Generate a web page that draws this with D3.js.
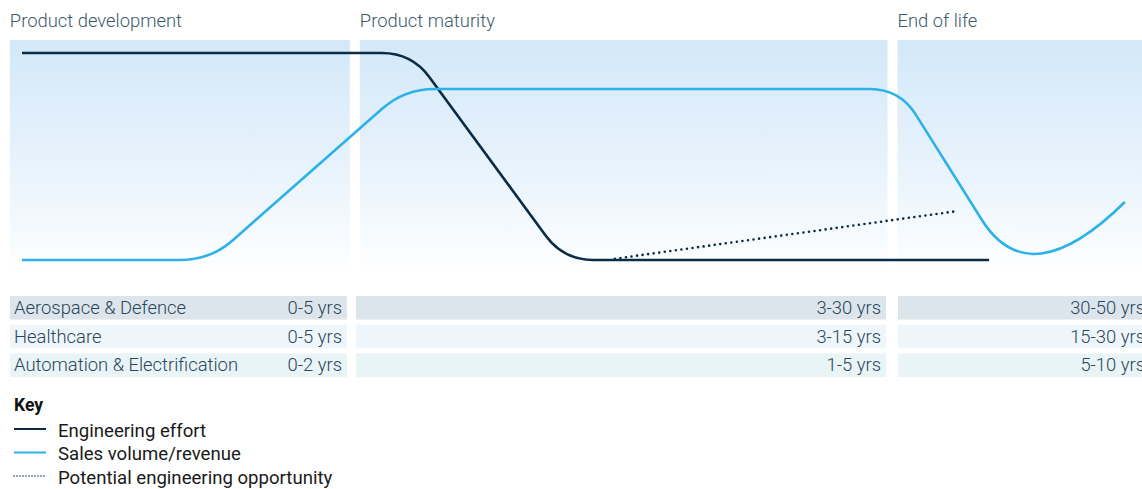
<!DOCTYPE html>
<html>
<head>
<meta charset="utf-8">
<script src="https://cdn.jsdelivr.net/npm/d3@7"></script>
<style>
  body { margin: 0; background: #fff; }
  svg { display: block; font-family: Roboto, "Noto Sans", sans-serif; }
</style>
</head>
<body>
<div id="chart-area"></div>
<script>
// phases across the top
var phases = ["Product development", "Product maturity", "End of life"];
var phaseEdges = [-1.1, 30.15, 78.85, 102];

// lifecycle curves (x = lifecycle progress 0-100, y = level 0-100), corner vertices
var engineering = [[0, 100], [35.3, 100], [49.05, 0], [87.6, 0]];
var sales = [[0, 0], [17.06, 0], [34.66, 82.6], [79.5, 82.6], [91.27, -17.4], [99.9, 28]];
var opportunity = [[53.7, 0.6], [84.8, 23.7]];

// durations table
var sectors = ["Aerospace & Defence", "Healthcare", "Automation & Electrification"];
var development = ["0-5 yrs", "0-5 yrs", "0-2 yrs"];
var maturity = ["3-30 yrs", "3-15 yrs", "1-5 yrs"];
var endOfLife = ["30-50 yrs", "15-30 yrs", "5-10 yrs"];
var rowColors = ["#dce5eb", "#eef6fc", "#e8f4f6"];

var keyLabels = ["Engineering effort", "Sales volume/revenue", "Potential engineering opportunity"];

var navy = "#0b2c45", sky = "#2db2e8";

// straight segments with rounded corners; optional tail bends all the way into the last point
function curveRounded(radius, tail) {
    return function(context) {
        var pts = [];
        return {
            areaStart: function() {}, areaEnd: function() {},
            lineStart: function() { pts = []; },
            point: function(x, y) { pts.push([x, y]); },
            lineEnd: function() {
                var n = pts.length;
                context.moveTo(pts[0][0], pts[0][1]);
                for (var i = 1; i < n - 1; i++) {
                    var p = pts[i - 1], c = pts[i], q = pts[i + 1];
                    var d1 = Math.hypot(c[0] - p[0], c[1] - p[1]);
                    var d2 = Math.hypot(q[0] - c[0], q[1] - c[1]);
                    var last = tail && i === n - 2;
                    var r1 = last ? Math.min(tail, d1 / 2) : Math.min(radius, d1 / 2, d2 / 2);
                    var r2 = last ? d2 : Math.min(radius, d1 / 2, d2 / 2);
                    context.lineTo(c[0] + (p[0] - c[0]) * r1 / d1, c[1] + (p[1] - c[1]) * r1 / d1);
                    context.quadraticCurveTo(c[0], c[1], c[0] + (q[0] - c[0]) * r2 / d2, c[1] + (q[1] - c[1]) * r2 / d2);
                }
                if (!(tail && n > 2)) context.lineTo(pts[n - 1][0], pts[n - 1][1]);
            }
        };
    };
}

var width = 1142, height = 489;
var svg = d3.select("#chart-area").append("svg")
    .attr("width", width)
    .attr("height", height);

var x = d3.scaleLinear().domain([0, 100]).range([22, 1126]);
var y = d3.scaleLinear().domain([0, 100]).range([260, 53]);

var grad = svg.append("defs").append("linearGradient")
    .attr("id", "panelFill")
    .attr("x1", 0).attr("y1", 0).attr("x2", 0).attr("y2", 1);
grad.append("stop").attr("offset", "0%").attr("stop-color", "#d3e8f8");
grad.append("stop").attr("offset", "55%").attr("stop-color", "#e8f3fc");
grad.append("stop").attr("offset", "100%").attr("stop-color", "#ffffff");

var gap = 5;
function left(i) { return x(phaseEdges[i]) + (i > 0 ? gap : 0); }
function right(i) { return x(phaseEdges[i + 1]) - gap; }

// panels and phase titles
phases.forEach(function(name, i) {
    svg.append("rect")
        .attr("x", left(i))
        .attr("y", 40)
        .attr("width", right(i) - left(i))
        .attr("height", 234)
        .attr("fill", "url(#panelFill)");
    svg.append("text")
        .attr("x", left(i))
        .attr("y", 27)
        .attr("font-size", 18.4)
        .attr("font-weight", 300)
        .attr("fill", "#3d586b")
        .text(name);
});

var line = d3.line().x(d => x(d[0])).y(d => y(d[1]));

svg.append("path")
    .attr("d", line.curve(curveRounded(30))(engineering))
    .attr("fill", "none")
    .attr("stroke", navy)
    .attr("stroke-width", 2.6);

svg.append("path")
    .attr("d", line.curve(curveRounded(30, 90))(sales))
    .attr("fill", "none")
    .attr("stroke", sky)
    .attr("stroke-width", 2.6);

svg.append("path")
    .attr("d", line.curve(d3.curveLinear)(opportunity))
    .attr("fill", "none")
    .attr("stroke", navy)
    .attr("stroke-width", 2.6)
    .attr("stroke-linecap", "round")
    .attr("stroke-dasharray", "0 5.6");

// durations table
var rowY = d3.scaleBand().domain(sectors).range([296, 377]).paddingInner(0.18);
var columns = [development, maturity, endOfLife];
var colLeft = [10, 356, 898], colRight = [347, 886, 1150];

sectors.forEach(function(sector, r) {
    var top = rowY(sector), h = rowY.bandwidth();
    columns.forEach(function(col, c) {
        svg.append("rect")
            .attr("x", colLeft[c])
            .attr("y", top)
            .attr("width", colRight[c] - colLeft[c])
            .attr("height", h)
            .attr("fill", rowColors[r]);
        svg.append("text")
            .attr("x", colRight[c] - 5)
            .attr("y", top + h / 2 + 6)
            .attr("text-anchor", "end")
            .attr("font-size", 18.4)
            .attr("font-weight", 300)
            .attr("fill", "#2b4659")
            .text(col[r]);
    });
    svg.append("text")
        .attr("x", 14)
        .attr("y", top + h / 2 + 6)
        .attr("font-size", 18.4)
        .attr("font-weight", 300)
        .attr("fill", "#2b4659")
        .text(sector);
});

// key
svg.append("text")
    .attr("x", 14)
    .attr("y", 411)
    .attr("font-size", 17.5)
    .attr("font-weight", 700)
    .attr("fill", "#111")
    .text("Key");

var keyY = d3.scalePoint().domain(keyLabels).range([429, 476]);
var keyStyles = [
    { stroke: navy, dash: null, width: 2 },
    { stroke: sky, dash: null, width: 2 },
    { stroke: navy, dash: "0 3", width: 1.6 }
];
keyLabels.forEach(function(label, i) {
    var ky = keyY(label), s = keyStyles[i];
    svg.append("line")
        .attr("x1", 14).attr("x2", 46)
        .attr("y1", ky).attr("y2", ky)
        .attr("stroke", s.stroke)
        .attr("stroke-width", s.width)
        .attr("stroke-linecap", s.dash ? "round" : "butt")
        .attr("stroke-dasharray", s.dash);
    svg.append("text")
        .attr("x", 58)
        .attr("y", ky + 7.5)
        .attr("font-size", 18.6)
        .attr("fill", "#1a1a1a")
        .text(label);
});
</script>
</body>
</html>
